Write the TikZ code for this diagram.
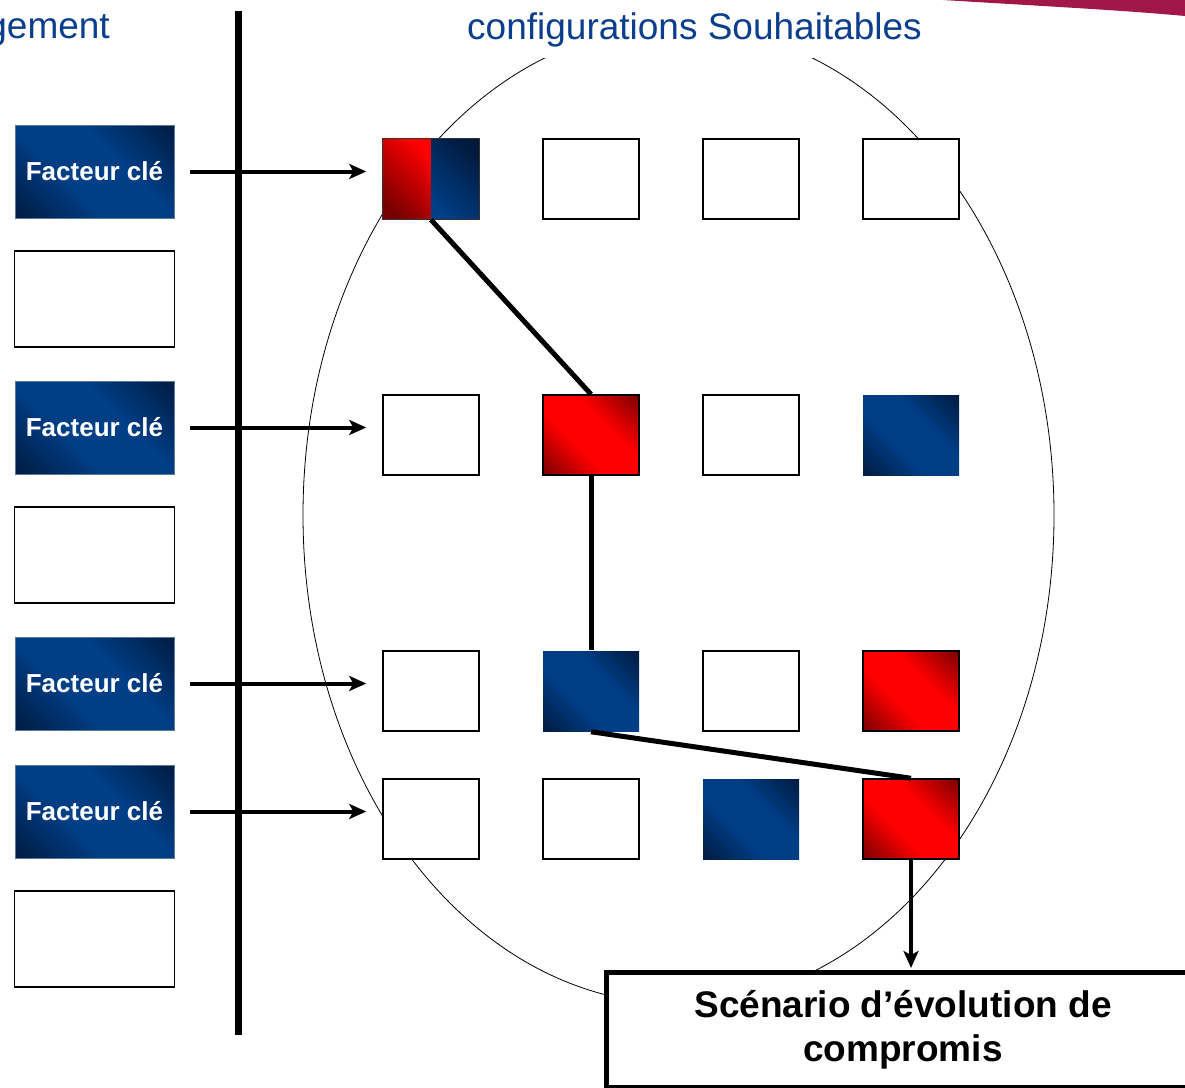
\documentclass[tikz,border=0pt]{standalone}
\usepackage{fontspec}
\setmainfont{Liberation Sans}
\usetikzlibrary{arrows.meta,positioning}

\definecolor{titleblue}{RGB}{12,62,142}
\definecolor{bluemid}{RGB}{0,62,134}
\definecolor{bluedark}{RGB}{0,26,62}
\definecolor{blueedge}{RGB}{90,120,160}
\definecolor{reddark}{RGB}{120,0,0}
\definecolor{swoosh}{RGB}{160,23,72}

\pgfdeclarehorizontalshading{bluediag}{100bp}{color(0bp)=(bluedark); color(14bp)=(bluedark); color(40bp)=(bluemid); color(60bp)=(bluemid); color(86bp)=(bluedark); color(100bp)=(bluedark)}
\pgfdeclarehorizontalshading{reddiag}{100bp}{color(0bp)=(reddark); color(14bp)=(reddark); color(40bp)=(red); color(60bp)=(red); color(86bp)=(reddark); color(100bp)=(reddark)}

\begin{document}
\begin{tikzpicture}[
                x=1pt,y=-1pt,
                cell/.style={draw,line width=1.5pt,minimum width=96pt,minimum height=80pt,inner sep=0pt},
                whitecell/.style={cell,fill=white},
                redcell/.style={cell,shading=reddiag,shading angle=45},
                bluecell/.style={cell,draw=none,shading=bluediag,shading angle=45},
                factor/.style={draw=blueedge,thin,minimum width=159pt,minimum height=93pt,inner sep=0pt,
                    shading=bluediag,shading angle=45,
                    text=white,font=\bfseries\fontsize{26}{30}\selectfont},
                blank/.style={draw,line width=1.8pt,fill=white,minimum width=160pt,minimum height=96pt},
                feed/.style={line width=4pt,-{Stealth[length=17pt,width=15pt,inset=4pt]},shorten <=16pt,shorten >=16pt},
                link/.style={line width=5pt}
            ]
                \useasboundingbox (0,0) rectangle (1185,1087);
                \fill[swoosh] (943,0) .. controls (1040,6) and (1120,10) .. (1185,16) -- (1185,0) -- cycle;
                \draw[line width=0.8pt] (678.5,515) ellipse [x radius=375.5,y radius=489];

                % headings
                \node (left title) [anchor=base east,inner sep=0pt,text=titleblue,font=\fontsize{37}{44}\selectfont] at (110,38) {gement};
                \node (right title) [fill=white,minimum height=56pt,text=titleblue,font=\fontsize{37}{44}\selectfont] at (694.5,30) {configurations Souhaitables};

                % separator
                \coordinate (top) at (238.5,11);
                \coordinate (bottom) at (238.5,1035);
                \draw[line width=7pt] (top) -- (bottom);

                % key factors
                \node (f1) [factor] at (94.5,171.5) {Facteur clé};
                \node (b1) [blank]  at (94.5,299) {};
                \node (f2) [factor] at (94.5,427.5) {Facteur clé};
                \node (b2) [blank]  at (94.5,555) {};
                \node (f3) [factor] at (94.5,683.5) {Facteur clé};
                \node (f4) [factor] at (94.5,811.5) {Facteur clé};
                \node (b3) [blank]  at (94.5,939) {};

                % configurations
                \node (c11) [cell]      at (431,179) {};
                \shade[top color=red,bottom color=reddark,shading angle=-45] (c11.south west) rectangle (c11.north);
                \shade[top color=bluedark,bottom color=bluemid,shading angle=-45] (c11.south) rectangle (c11.north east);
                \draw[line width=1.2pt,black!80] (c11.south west) rectangle (c11.north east);
                \node (c12) [whitecell] at (591,179) {};
                \node (c13) [whitecell] at (751,179) {};
                \node (c14) [whitecell] at (911,179) {};

                \node (c21) [whitecell] at (431,435) {};
                \node (c22) [redcell]   at (591,435) {};
                \node (c23) [whitecell] at (751,435) {};
                \node (c24) [bluecell]  at (911,435) {};

                \node (c31) [whitecell] at (431,691) {};
                \node (c32) [bluecell]  at (591,691) {};
                \node (c33) [whitecell] at (751,691) {};
                \node (c34) [redcell]   at (911,691) {};

                \node (c41) [whitecell] at (431,819) {};
                \node (c42) [whitecell] at (591,819) {};
                \node (c43) [bluecell]  at (751,819) {};
                \node (c44) [redcell]   at (911,819) {};

                \node (scen) [draw,line width=5pt,fill=white,minimum width=594pt,minimum height=115pt,align=center,
                    font=\bfseries\fontsize{37}{44}\selectfont] at (903,1030) {Scénario d’évolution de\\compromis};

                % arrows from the key factors
                \foreach \f/\c in {f1/c11,f2/c21,f3/c31,f4/c41}
                    \draw[feed] (\f.east) -- (\f.east -| \c.west);

                % chosen path
                \draw[link] (c11.south) -- (c22.north);
                \draw[link] (c22.south) -- (c32.north);
                \draw[link] (c32.south) -- (c44.north);
                \draw[line width=4pt,-{Stealth[length=17pt,width=15pt,inset=4pt]}] (c44.south) -- ([yshift=2pt]c44.south |- scen.north);
            \end{tikzpicture}
\end{document}
